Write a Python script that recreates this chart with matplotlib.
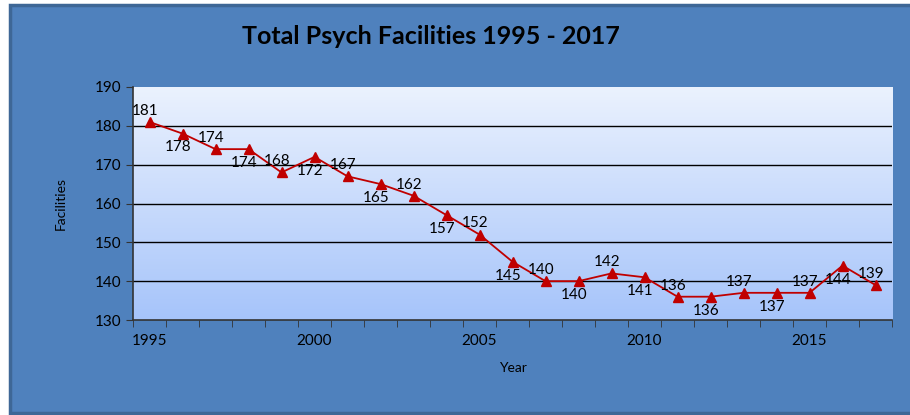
import numpy as np
import matplotlib
matplotlib.use("Agg")
import matplotlib.pyplot as plt
from matplotlib.patches import Rectangle
from matplotlib.colors import LinearSegmentedColormap

years = list(range(1995, 2018))
facilities = [181, 178, 174, 174, 168, 172, 167, 165, 162, 157, 152, 145,
              140, 140, 142, 141, 136, 136, 137, 137, 137, 144, 139]
year_labels = [1995, 2000, 2005, 2010, 2015]
y_ticks = [130, 140, 150, 160, 170, 180, 190]

plt.rcParams['font.family'] = ['Lato', 'DejaVu Sans']

fig = plt.figure(figsize=(9.1, 4.15), dpi=100)
fig.patch.set_facecolor('white')

# blue chart panel, behind the axes
panel = Rectangle((10 / 910, 2 / 415), 1.0, 408 / 415, transform=fig.transFigure,
                  facecolor='#4F81BD', edgecolor='#3E6796', linewidth=2.5, zorder=-10)
fig.patches.append(panel)

ax = fig.add_axes([133 / 910, 1 - 320 / 415, 759 / 910, 233 / 415])
ax.set_facecolor('none')

# gradient plot area
grad = LinearSegmentedColormap.from_list('g', ['#A6C4FA', '#EBF2FE'])
ax.imshow(np.linspace(0, 1, 256).reshape(-1, 1), cmap=grad, origin='lower',
          aspect='auto', extent=[0, 1, 0, 1], transform=ax.transAxes, zorder=0)

ax.set_xlim(1994.5, 2017.5)
ax.set_ylim(130, 190)
for v in y_ticks[1:-1]:
    ax.axhline(v, color='black', linewidth=1, zorder=1)

ax.plot(years, facilities, color='#C00000', linewidth=1.3, marker='^',
        markersize=7, zorder=3)

for i, (x, y) in enumerate(zip(years, facilities)):
    dy = 8 if i % 2 == 0 else -10
    ax.annotate(str(y), (x, y), xytext=(-3, dy), textcoords='offset points',
                ha='center', va='center', fontsize=11, color='black', zorder=4)

ax.set_yticks(y_ticks)
ax.set_xticks(year_labels)
ax.set_xticks(np.arange(1994.5, 2018, 1), minor=True)
ax.tick_params(axis='x', which='major', length=0, pad=10, labelsize=11)
ax.tick_params(axis='x', which='minor', length=5, direction='out', color='#333333')
ax.tick_params(axis='y', length=5, direction='out', color='#333333', labelsize=11)

for s in ['top', 'right']:
    ax.spines[s].set_visible(False)
for s in ['left', 'bottom']:
    ax.spines[s].set_color('#333333')
    ax.spines[s].set_linewidth(1.2)

ax.set_xlabel('Year', fontsize=10, labelpad=10)
ax.set_ylabel('Facilities', fontsize=10, labelpad=20)
fig.text(431 / 910, 1 - 36 / 415, 'Total Psych Facilities 1995 - 2017',
         ha='center', va='center', fontsize=18, fontweight='bold')

fig.savefig('out.png', dpi=100)
